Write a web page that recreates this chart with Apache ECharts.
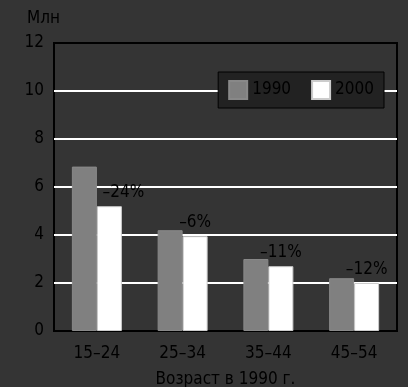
<!DOCTYPE html>
<html><head><meta charset="utf-8">
<script src="https://cdn.jsdelivr.net/npm/echarts@6/dist/echarts.min.js"></script>
<style>html,body{margin:0;padding:0;background:#343434}#c{width:408px;height:387px}</style>
</head><body><div id="c"></div>
<script>
const categories = ['15–24', '25–34', '35–44', '45–54'];
const values1990 = [6.85, 4.2, 3.0, 2.2];
const values2000 = [5.2, 3.95, 2.7, 2.0];
const changeLabels = ['–24%', '–6%', '–11%', '–12%'];
const yTicks = [0, 2, 4, 6, 8, 10, 12];

const FONT = "'Liberation Sans Narrow', 'DejaVu Sans Condensed', sans-serif";
const TXT = '#000';
const chart = echarts.init(document.getElementById('c'), null, {renderer: 'canvas'});
chart.setOption({
  backgroundColor: '#343434',
  animation: false,
  textStyle: {fontFamily: FONT},
  grid: {left: 54, top: 43, right: 11, bottom: 56, containLabel: false, outerBoundsMode: 'none',
    show: true, backgroundColor: '#343434', borderColor: '#000', borderWidth: 2},
  legend: {
    data: ['1990', '2000'], right: 24, top: 72, padding: [8, 10, 8, 10],
    backgroundColor: '#222', borderColor: '#000', borderWidth: 1,
    itemWidth: 18, itemHeight: 18, itemGap: 20,
    textStyle: {color: TXT, fontSize: 17, fontFamily: FONT},
    icon: 'rect'
  },
  xAxis: {
    type: 'category', data: categories,
    axisLine: {show: false}, axisTick: {show: false},
    axisLabel: {color: TXT, fontSize: 17, fontFamily: FONT, margin: 14},
    name: 'Возраст в 1990 г.', nameLocation: 'middle', nameGap: 40,
    nameTextStyle: {color: TXT, fontSize: 17, fontFamily: FONT}
  },
  yAxis: {
    type: 'value', min: yTicks[0], max: yTicks[yTicks.length - 1], interval: 2,
    axisLine: {show: false}, axisTick: {show: false},
    axisLabel: {color: TXT, fontSize: 17, fontFamily: FONT, margin: 10},
    splitLine: {show: true, lineStyle: {color: ['#000', '#fff', '#fff', '#fff', '#fff', '#fff', '#000'], width: 2}},
    name: 'Млн', nameLocation: 'end', nameGap: 16,
    nameTextStyle: {color: TXT, fontSize: 17, fontFamily: FONT, align: 'right', padding: [0, -6, 0, 0]}
  },
  series: [
    {name: '1990', type: 'bar', data: values1990, barWidth: 25, barGap: '0%',
     itemStyle: {color: '#808080', borderColor: '#888', borderWidth: 1}, z: 3},
    {name: '2000', type: 'bar', z: 3, barWidth: 25,
     data: values2000.map((v, i) => i === 0 ? {value: v, label: {offset: [14, 0]}} : v),
     itemStyle: {color: '#fff', borderColor: '#ccc', borderWidth: 1},
     label: {show: true, position: 'top', distance: 5, color: TXT, fontSize: 17, fontFamily: FONT,
       formatter: p => changeLabels[p.dataIndex]}}
  ]
});
</script></body></html>
